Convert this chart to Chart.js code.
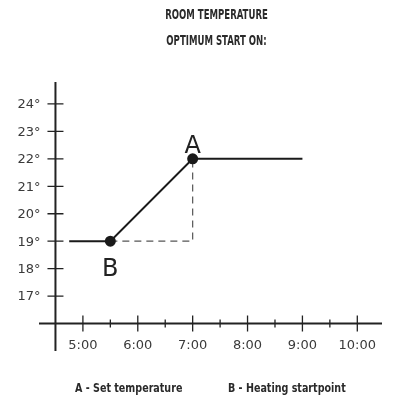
<!DOCTYPE html>
<html>
<head>
<meta charset="utf-8">
<script src="https://cdn.jsdelivr.net/npm/chart.js@4"></script>
<style>
  body { margin: 0; background: #fff; }
  #wrap { position: relative; width: 403px; height: 402px; }
  .cond { position: absolute; font-family: "Liberation Sans Narrow", "DejaVu Sans Condensed", sans-serif; font-weight: bold; color: #2a2a2a; white-space: nowrap; }
  .title { left: 15px; width: 403px; text-align: center; font-size: 14px; transform: scaleX(0.68); transform-origin: center; }
  .legend { top: 380px; font-size: 12.5px; transform: scaleX(0.85); transform-origin: left center; }
</style>
</head>
<body>
<div id="wrap">
  <canvas id="myChart" width="403" height="402"></canvas>
  <div class="cond title" style="top:6px">ROOM TEMPERATURE</div>
  <div class="cond title" style="top:32px">OPTIMUM START ON:</div>
  <div class="cond legend" style="left:75px">A - Set temperature</div>
  <div class="cond legend" style="left:228px">B - Heating startpoint</div>
</div>
<script>
// temperature curve (hours, degrees)
const curveHours = [4.75, 5.5, 7, 9];
const curveTemps = [19, 19, 22, 22];
// dashed guide from B to A
const guideHours = [5.5, 7, 7];
const guideTemps = [19, 19, 22];
// labelled points
const markNames = ['A', 'B'];
const markHours = [7, 5.5];
const markTemps = [22, 19];
// axis ticks
const hourTicks = [5, 6, 7, 8, 9, 10];
const hourLabels = ['5:00', '6:00', '7:00', '8:00', '9:00', '10:00'];
const tempTicks = [17, 18, 19, 20, 21, 22, 23, 24];

const toPoints = (xs, ys) => xs.map((x, i) => ({ x: x, y: ys[i] }));

// draws the crossing axes, ticks and A/B letters
const axesPlugin = {
    id: 'axes',
    afterDraw: (chart) => {
        const ctx = chart.ctx;
        const xs = chart.scales.x;
        const ys = chart.scales.y;
        const x0 = xs.getPixelForValue(4.5);
        const y0 = ys.getPixelForValue(16);
        ctx.save();
        ctx.strokeStyle = '#222';
        ctx.lineWidth = 2;
        ctx.beginPath();
        ctx.moveTo(x0, ys.getPixelForValue(24.8));
        ctx.lineTo(x0, ys.getPixelForValue(15));
        ctx.moveTo(xs.getPixelForValue(4.2), y0);
        ctx.lineTo(xs.getPixelForValue(10.45), y0);
        ctx.stroke();

        ctx.lineWidth = 1.3;
        ctx.beginPath();
        tempTicks.forEach(t => {
            const y = ys.getPixelForValue(t);
            ctx.moveTo(x0 - 8, y);
            ctx.lineTo(x0 + 8, y);
        });
        hourTicks.forEach(h => {
            const x = xs.getPixelForValue(h);
            ctx.moveTo(x, y0 - 8);
            ctx.lineTo(x, y0 + 8);
            if (h < 10) {
                const xm = xs.getPixelForValue(h + 0.5);
                ctx.moveTo(xm, y0 - 4);
                ctx.lineTo(xm, y0 + 4);
            }
        });
        ctx.stroke();

        ctx.fillStyle = '#3a3a3a';
        ctx.font = '13px "DejaVu Sans"';
        ctx.textBaseline = 'middle';
        ctx.textAlign = 'right';
        tempTicks.forEach(t => {
            ctx.fillText(t + '°', x0 - 15, ys.getPixelForValue(t) + 1);
        });
        ctx.textAlign = 'center';
        hourTicks.forEach((h, i) => {
            ctx.fillText(hourLabels[i], xs.getPixelForValue(h), y0 + 22);
        });

        ctx.fillStyle = '#222';
        ctx.font = '24px "DejaVu Sans"';
        ctx.textBaseline = 'alphabetic';
        markNames.forEach((n, i) => {
            const x = xs.getPixelForValue(markHours[i]);
            const y = ys.getPixelForValue(markTemps[i]);
            ctx.fillText(n, x, n === 'A' ? y - 6 : y + 35);
        });
        ctx.restore();
    }
};

window.onload = () => {
    new Chart(document.getElementById('myChart'), {
        type: 'line',
        data: {
            datasets: [{
                data: toPoints(curveHours, curveTemps),
                borderColor: '#1a1a1a',
                backgroundColor: '#1a1a1a',
                borderWidth: 2,
                pointRadius: [0, 4.5, 4.5, 0],
                pointHoverRadius: 0,
                tension: 0
            }, {
                data: toPoints(guideHours, guideTemps),
                borderColor: '#555',
                borderWidth: 1.2,
                borderDash: [7, 5],
                pointRadius: 0,
                tension: 0
            }]
        },
        options: {
            responsive: false,
            animation: false,
            layout: { padding: { left: 39, right: 21, top: 82, bottom: 51 } },
            plugins: { legend: { display: false }, tooltip: { enabled: false } },
            scales: {
                x: { type: 'linear', min: 4.2, max: 10.45, display: false },
                y: { type: 'linear', min: 15, max: 24.8, display: false }
            }
        },
        plugins: [axesPlugin]
    });
};
</script>
</body>
</html>
